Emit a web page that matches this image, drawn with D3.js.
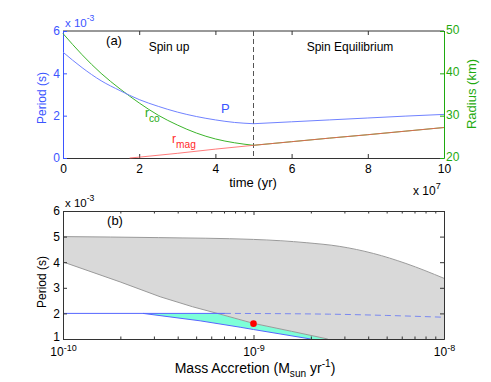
<!DOCTYPE html>
<html>
<head>
<meta charset="utf-8">
<script src="https://cdn.jsdelivr.net/npm/d3@7"></script>
<style>
  body { margin: 0; background: #fff; }
  text { font-family: "Liberation Sans", Arial, sans-serif; }
</style>
</head>
<body>
<svg id="chart" width="491" height="382"></svg>
<script>
// panel (a): spin evolution, period in units of 1e-3 s, time in units of 1e7 yr
const timeUp = [0, 0.5, 1, 1.5, 2, 2.5, 3, 3.5, 4, 4.5, 5];
const periodUp = [5.0, 4.27, 3.65, 3.18, 2.76, 2.44, 2.17, 1.96, 1.8, 1.68, 1.62];
const rcoUp = [49.4, 44.4, 40.0, 36.3, 33.0, 30.1, 27.8, 25.9, 24.5, 23.6, 23.0];
const timeEq = [5, 6, 7, 8, 9, 10];
const periodEq = [1.62, 1.71, 1.8, 1.89, 1.98, 2.06];
const rcoEq = [23.0, 23.85, 24.7, 25.5, 26.35, 27.2];
const timeMag = [1.75, 2, 3, 4, 5, 6, 7, 8, 9, 10];
const rmag = [20, 20.2, 21.1, 22.1, 23.0, 23.85, 24.7, 25.5, 26.35, 27.2];
const timeTicks = [0, 2, 4, 6, 8, 10];
const periodTicksA = [0, 2, 4, 6];
const radiusTicks = [20, 30, 40, 50];

// panel (b): period vs accretion rate (log10 of Msun/yr)
const upperLog = [-10, -9.5, -9, -8.72, -8.55, -8.37, -8.2, -8];
const upperP = [5.0, 4.96, 4.89, 4.76, 4.62, 4.34, 3.95, 3.37];
const lowerLog = [-10, -9.7, -9.49, -9.32, -9.19, -9.0, -8.8, -8.61];
const lowerP = [4.01, 3.23, 2.65, 2.26, 2.0, 1.61, 1.30, 1.0];
const spinLog = [-10, -9.58, -9.15];
const spinP = [2.0, 2.0, 2.0];
const blueLog = [-9.58, -9.28, -9.07, -9.0, -8.70];
const blueP = [2.0, 1.71, 1.46, 1.37, 1.0];
const eqLog = [-9.15, -8.6, -8.3, -8.0];
const eqP = [2.0, 1.97, 1.92, 1.85];
const dotLog = -9, dotP = 1.6;
const periodTicksB = [1, 2, 3, 4, 5, 6];

const blue = "#3b55ff", blueLine = "#7082ff";
const green = "#1faa10", greenLine = "#3cb52c";
const red = "#ff2a2a", redLine = "#ff5a5a";
const frame = "#333";

const svg = d3.select("#chart");

function sup(t, base, s, dy) {
  t.append("tspan").text(base);
  t.append("tspan").attr("dy", dy || -6).attr("font-size", "0.75em").text(s);
}

// ---------- panel (a) ----------
const xA = d3.scaleLinear([0, 10], [63, 444]);
const yP = d3.scaleLinear([0, 6], [158, 31]);
const yR = d3.scaleLinear([20, 50], [158, 31]);
const gA = svg.append("g");

gA.append("line").attr("x1", 63).attr("x2", 444).attr("y1", 31).attr("y2", 31).attr("stroke", frame);

gA.append("g").attr("transform", "translate(0,158)")
  .call(d3.axisBottom(xA).tickValues(timeTicks).tickSize(-4).tickSizeOuter(0).tickPadding(6).tickFormat(d3.format("d")))
  .call(g => g.selectAll("line,path").attr("stroke", frame))
  .call(g => g.selectAll("text").attr("font-size", 12).attr("fill", "#000"));
gA.append("g").attr("transform", "translate(0,31)")
  .call(d3.axisTop(xA).tickValues(timeTicks).tickSize(-4).tickSizeOuter(0).tickFormat(""))
  .call(g => g.selectAll("line").attr("stroke", frame))
  .call(g => g.select(".domain").remove());
gA.append("g").attr("transform", "translate(63,0)")
  .call(d3.axisLeft(yP).tickValues(periodTicksA).tickSize(-4).tickSizeOuter(0).tickPadding(3).tickFormat(d3.format("d")))
  .call(g => g.selectAll("line,path").attr("stroke", blue))
  .call(g => g.selectAll("text").attr("font-size", 12).attr("fill", blue));
gA.append("g").attr("transform", "translate(444,0)")
  .call(d3.axisRight(yR).tickValues(radiusTicks).tickSize(-4).tickSizeOuter(0).tickPadding(2).tickFormat(d3.format("d")))
  .call(g => g.selectAll("line,path").attr("stroke", green))
  .call(g => g.selectAll("text").attr("font-size", 12).attr("fill", green).attr("dy", "0.22em"));

// transition between the two phases
gA.append("line").attr("x1", xA(5)).attr("x2", xA(5)).attr("y1", 31).attr("y2", 158)
  .attr("stroke", "#555").attr("stroke-dasharray", "5,3");

const lineP = d3.line().x(d => xA(d[0])).y(d => yP(d[1])).curve(d3.curveMonotoneX);
const lineR = d3.line().x(d => xA(d[0])).y(d => yR(d[1])).curve(d3.curveMonotoneX);

gA.append("path").attr("d", lineR(d3.zip(timeUp, rcoUp)))
  .attr("fill", "none").attr("stroke", greenLine);
gA.append("path").attr("d", lineR(d3.zip(timeEq, rcoEq)))
  .attr("fill", "none").attr("stroke", greenLine);
gA.append("path").attr("d", lineR(d3.zip(timeMag, rmag)))
  .attr("fill", "none").attr("stroke", redLine).attr("stroke-opacity", 0.8);
gA.append("path").attr("d", lineP(d3.zip(timeUp, periodUp)))
  .attr("fill", "none").attr("stroke", blueLine);
gA.append("path").attr("d", lineP(d3.zip(timeEq, periodEq)))
  .attr("fill", "none").attr("stroke", blueLine);

gA.append("text").attr("x", 221).attr("y", 113).attr("font-size", 13).attr("fill", blue).text("P");
const tco = gA.append("text").attr("x", 145).attr("y", 117).attr("font-size", 12).attr("fill", green);
tco.append("tspan").text("r");
tco.append("tspan").attr("dy", 5).attr("font-size", "0.85em").text("co");
const tmag = gA.append("text").attr("x", 172).attr("y", 143).attr("font-size", 12).attr("fill", red);
tmag.append("tspan").text("r");
tmag.append("tspan").attr("dy", 5).attr("font-size", "0.85em").text("mag");

gA.append("text").attr("x", 114).attr("y", 45).attr("text-anchor", "middle").attr("font-size", 13).text("(a)");
gA.append("text").attr("x", 169).attr("y", 51).attr("text-anchor", "middle").attr("font-size", 12).text("Spin up");
gA.append("text").attr("x", 350).attr("y", 51).attr("text-anchor", "middle").attr("font-size", 12).text("Spin Equilibrium");

sup(gA.append("text").attr("x", 65).attr("y", 27).attr("font-size", 11.5).attr("fill", blue), "x 10", "-3");
sup(gA.append("text").attr("x", 413).attr("y", 195).attr("font-size", 12), "x 10", "7");
gA.append("text").attr("x", 253).attr("y", 187).attr("text-anchor", "middle").attr("font-size", 13).text("time (yr)");
gA.append("text").attr("transform", "translate(46,98) rotate(-90)").attr("text-anchor", "middle")
  .attr("font-size", 12).attr("fill", blue).text("Period (s)");
gA.append("text").attr("transform", "translate(476,94) rotate(-90)").attr("text-anchor", "middle")
  .attr("font-size", 13).attr("fill", green).text("Radius (km)");

// ---------- panel (b) ----------
const xB = d3.scaleLog([1e-10, 1e-8], [63, 444]);
const yB = d3.scaleLinear([1, 6], [339, 211]);
const gB = svg.append("g");

svg.append("clipPath").attr("id", "clipB").append("rect")
  .attr("x", 63).attr("y", 211).attr("width", 381).attr("height", 128);
const plotB = gB.append("g").attr("clip-path", "url(#clipB)");

const lineB = d3.line().x(d => xB(Math.pow(10, d[0]))).y(d => yB(d[1]));
const upperPts = d3.zip(upperLog, upperP);
const lowerPts = d3.zip(lowerLog, lowerP);

// allowed region between the two period limits
plotB.append("path")
  .attr("d", lineB(upperPts.concat([[-8, 1]], lowerPts.slice().reverse())) + "Z")
  .attr("fill", "#d9d9d9").attr("stroke", "none");
plotB.append("path").attr("d", lineB.curve(d3.curveMonotoneX)(upperPts))
  .attr("fill", "none").attr("stroke", "#9a9a9a");
lineB.curve(d3.curveLinear);

// spin-up band
const bluePts = d3.zip(blueLog, blueP);
const cyanTop = [[-9.58, 2.0]].concat(lowerPts.filter(d => d[0] >= -9.19));
plotB.append("path")
  .attr("d", lineB(cyanTop.concat(bluePts.slice().reverse())) + "Z")
  .attr("fill", "#7dffd8").attr("stroke", "none");
plotB.append("path").attr("d", lineB(lowerPts)).attr("fill", "none").attr("stroke", "#9a9a9a");
plotB.append("path").attr("d", lineB(bluePts)).attr("fill", "none").attr("stroke", "#5566ff");
plotB.append("path").attr("d", lineB(d3.zip(spinLog, spinP))).attr("fill", "none").attr("stroke", "#5566ff");
plotB.append("path").attr("d", lineB.curve(d3.curveMonotoneX)(d3.zip(eqLog, eqP)))
  .attr("fill", "none").attr("stroke", "#7a88f0").attr("stroke-dasharray", "6,4");
lineB.curve(d3.curveLinear);

plotB.append("circle").attr("cx", xB(Math.pow(10, dotLog))).attr("cy", yB(dotP)).attr("r", 3.3).attr("fill", "#ff0000");

// frame and ticks
const decadeTicks = [1e-10, 1e-9, 1e-8];
const minorTicks = [];
[1e-10, 1e-9].forEach(d => { for (let k = 2; k <= 9; k++) minorTicks.push(d * k); });

function styleFrame(g) { g.selectAll("line,path").attr("stroke", frame); }

gB.append("g").attr("transform", "translate(0,339)")
  .call(d3.axisBottom(xB).tickValues(minorTicks).tickSize(-2.5).tickSizeOuter(0).tickFormat(""))
  .call(styleFrame);
gB.append("g").attr("transform", "translate(0,211)")
  .call(d3.axisTop(xB).tickValues(minorTicks).tickSize(-2.5).tickSizeOuter(0).tickFormat(""))
  .call(styleFrame);
gB.append("g").attr("transform", "translate(0,211)")
  .call(d3.axisTop(xB).tickValues(decadeTicks).tickSize(-4).tickSizeOuter(0).tickFormat(""))
  .call(styleFrame);
const xAxB = gB.append("g").attr("transform", "translate(0,339)")
  .call(d3.axisBottom(xB).tickValues(decadeTicks).tickSize(-4).tickSizeOuter(0).tickFormat(""))
  .call(styleFrame);
xAxB.selectAll(".tick").each(function(d) {
  const t = d3.select(this).append("text").attr("y", 17).attr("text-anchor", "middle")
    .attr("font-size", 12).attr("fill", "#000");
  sup(t, "10", String(Math.round(Math.log10(d))), -5);
});

gB.append("g").attr("transform", "translate(63,0)")
  .call(d3.axisLeft(yB).tickValues(periodTicksB).tickSize(-4).tickSizeOuter(0).tickPadding(3).tickFormat(d3.format("d")))
  .call(styleFrame)
  .call(g => g.selectAll("text").attr("font-size", 12).attr("fill", "#000"))
  .call(g => g.selectAll(".tick").filter(d => d === 1).select("text").attr("dy", "0.1em"));
gB.append("g").attr("transform", "translate(444,0)")
  .call(d3.axisRight(yB).tickValues(periodTicksB).tickSize(-4).tickSizeOuter(0).tickFormat(""))
  .call(styleFrame);

gB.append("text").attr("x", 115).attr("y", 225).attr("text-anchor", "middle").attr("font-size", 13).text("(b)");
sup(gB.append("text").attr("x", 65).attr("y", 207).attr("font-size", 11.5), "x 10", "-3");
gB.append("text").attr("transform", "translate(46,282) rotate(-90)").attr("text-anchor", "middle")
  .attr("font-size", 12).text("Period (s)");

const xl = gB.append("text").attr("x", 255).attr("y", 373).attr("text-anchor", "middle").attr("font-size", 14);
xl.append("tspan").text("Mass Accretion (M");
xl.append("tspan").attr("dy", 4).attr("font-size", "0.72em").text("sun");
xl.append("tspan").attr("dy", -4).text(" yr");
xl.append("tspan").attr("dy", -6).attr("font-size", "0.72em").text("-1");
xl.append("tspan").attr("dy", 6).text(")");
</script>
</body>
</html>
